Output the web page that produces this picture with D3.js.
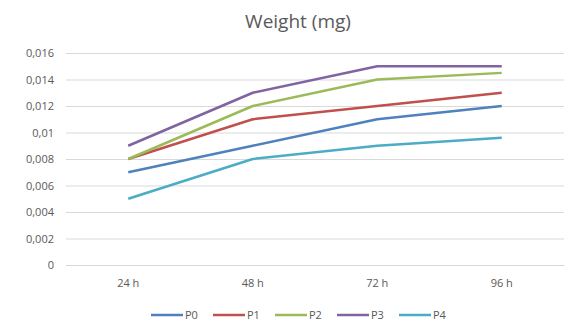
<!DOCTYPE html>
<html><head><meta charset="utf-8">
<script src="https://cdn.jsdelivr.net/npm/d3@7"></script>
<style>body{margin:0;background:#fff;}text{font-family:"Open Sans","Liberation Sans",sans-serif;}</style>
</head><body>
<svg id="c" width="567" height="322"></svg>
<script>
const categories = ["24 h","48 h","72 h","96 h"];
const seriesNames = ["P0","P1","P2","P3","P4"];
const P0 = [0.007, 0.009, 0.011, 0.012];
const P1 = [0.008, 0.011, 0.012, 0.013];
const P2 = [0.008, 0.012, 0.014, 0.0145];
const P3 = [0.009, 0.013, 0.015, 0.015];
const P4 = [0.005, 0.008, 0.009, 0.0096];
const yTicks = [0,0.002,0.004,0.006,0.008,0.01,0.012,0.014,0.016];
const yTickLabels = ["0","0,002","0,004","0,006","0,008","0,01","0,012","0,014","0,016"];
const colors = ["#4F81BD","#C0504D","#9BBB59","#8064A2","#4BACC6"];
const seriesValues = [P0,P1,P2,P3,P4];

const svg = d3.select("#c");
const x = d3.scaleBand().domain(categories).range([66,564]);
const y = d3.scaleLinear().domain([0,0.016]).range([265,53]);

svg.append("text").attr("x",298).attr("y",28).attr("text-anchor","middle")
  .attr("font-size",19).attr("fill","#595959").text("Weight (mg)");

const gy = svg.append("g").attr("transform","translate(66,0)")
  .call(d3.axisLeft(y).tickValues(yTicks).tickSize(-(564-66)).tickFormat((d,i)=>yTickLabels[i]));
gy.select(".domain").remove();
gy.selectAll("line").attr("stroke","#d9d9d9");
gy.selectAll("text").attr("fill","#595959").attr("font-size",11).attr("x",-12);

const gx = svg.append("g").attr("transform","translate(0,265)")
  .call(d3.axisBottom(x).tickSize(0));
gx.select(".domain").attr("stroke","#d9d9d9");
gx.selectAll("text").attr("fill","#595959").attr("font-size",11).attr("y",14).attr("dy","0.71em");

const line = d3.line().x((d,i)=>x(categories[i])+x.bandwidth()/2).y(d=>y(d));
seriesValues.forEach((vals,k)=>{
  svg.append("path").datum(vals).attr("d",line).attr("fill","none")
    .attr("stroke",colors[k]).attr("stroke-width",2.5).attr("stroke-linejoin","round");
});

const lg = svg.append("g");
seriesNames.forEach((n,k)=>{
  const lx = 151 + k*62;
  lg.append("line").attr("x1",lx).attr("x2",lx+32).attr("y1",315).attr("y2",315)
    .attr("stroke",colors[k]).attr("stroke-width",2.5);
  lg.append("text").attr("x",lx+34).attr("y",319).attr("font-size",11).attr("fill","#595959").text(n);
});
</script>
</body></html>
